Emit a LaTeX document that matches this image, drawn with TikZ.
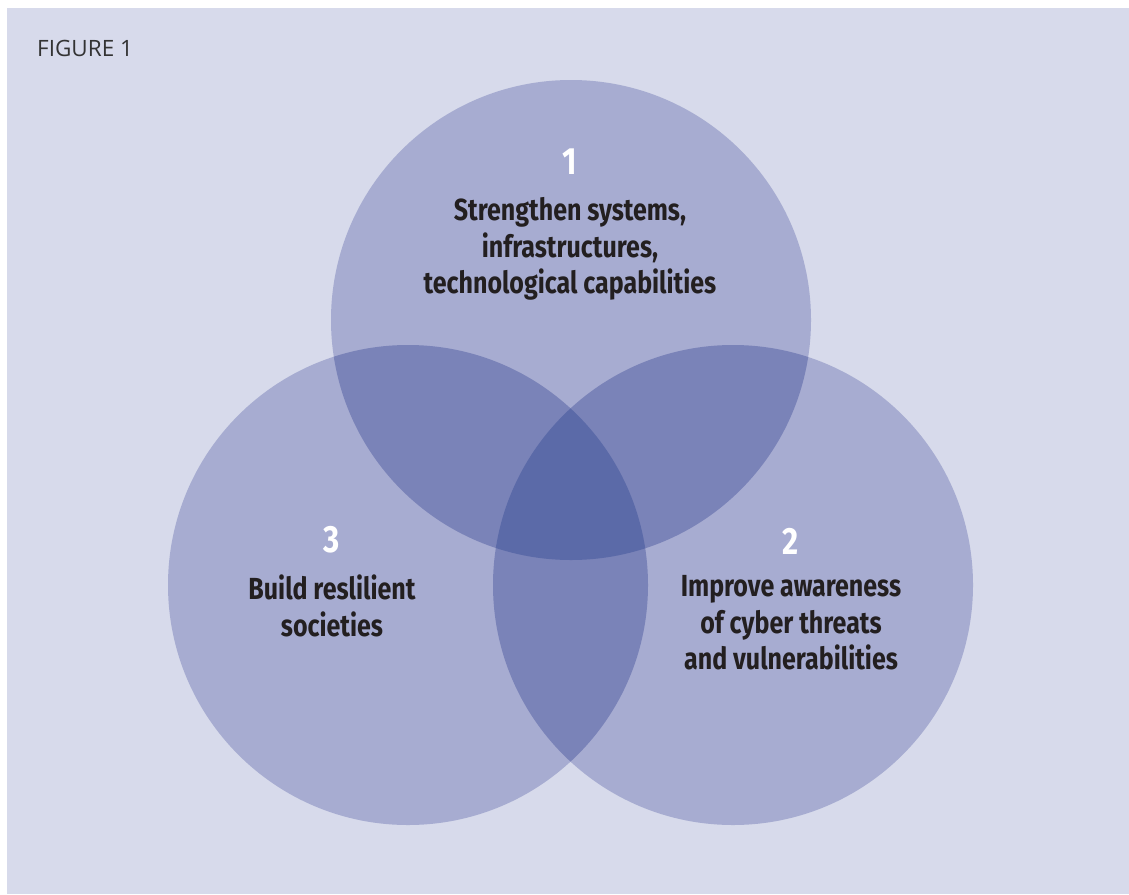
\documentclass[tikz,border=0pt]{standalone}
\usepackage{fontspec}
\newfontfamily\titlefont{Open Sans}
\newfontfamily\labelfont[FakeStretch=0.82]{Fira Sans}
\definecolor{pagebg}{HTML}{D7DAEB}
\definecolor{ring}{HTML}{A7ACD1}
\definecolor{pairzone}{HTML}{7A83B8}
\definecolor{corezone}{HTML}{5B6AA8}
\definecolor{inktext}{HTML}{231F20}
\definecolor{titleink}{HTML}{333333}
\tikzset{
  goaltext/.style={text=inktext, align=center, inner sep=0pt,
    font=\labelfont\bfseries\fontsize{30.5}{36.5}\selectfont},
  goalnum/.style={text=white, inner sep=0pt,
    font=\labelfont\bfseries\fontsize{38}{42}\selectfont},
}
\begin{document}
\begin{tikzpicture}[x=1pt,y=-1pt]
  \useasboundingbox (0,0) rectangle (1129,894);
  \fill[white] (0,0) rectangle (1129,894);
  \fill[pagebg] (7,8) rectangle (1129,894);

  % circle centres
  \coordinate (c1) at (571,320);
  \coordinate (c2) at (733,585);
  \coordinate (c3) at (408,585);
  \def\rad{240pt}

  % three discs
  \fill[ring] (c1) circle[radius=\rad];
  \fill[ring] (c2) circle[radius=\rad];
  \fill[ring] (c3) circle[radius=\rad];

  % pairwise overlaps
  \begin{scope}
    \clip (c1) circle[radius=\rad];
    \fill[pairzone] (c2) circle[radius=\rad];
    \fill[pairzone] (c3) circle[radius=\rad];
  \end{scope}
  \begin{scope}
    \clip (c2) circle[radius=\rad];
    \fill[pairzone] (c3) circle[radius=\rad];
  \end{scope}

  % common overlap of all three
  \begin{scope}
    \clip (c1) circle[radius=\rad];
    \clip (c2) circle[radius=\rad];
    \fill[corezone] (c3) circle[radius=\rad];
  \end{scope}

  % caption
  \node[anchor=west, inner sep=0pt, text=titleink,
        font=\titlefont\fontsize{22.5}{26}\selectfont] (fig) at (37,48) {FIGURE 1};

  % circle labels
  \node[goalnum] (n1) at (570,162) {1};
  \node[goaltext] (t1) at (570,249) {Strengthen systems,\\infrastructures,\\technological capabilities};

  \node[goalnum] (n2) at (791,541) {2};
  \node[goaltext] (t2) at (791,623) {Improve awareness\\of cyber threats\\and vulnerabilities};

  \node[goalnum] (n3) at (332,540) {3};
  \node[goaltext] (t3) at (332,606) {Build reslilient\\societies};
\end{tikzpicture}
\end{document}
